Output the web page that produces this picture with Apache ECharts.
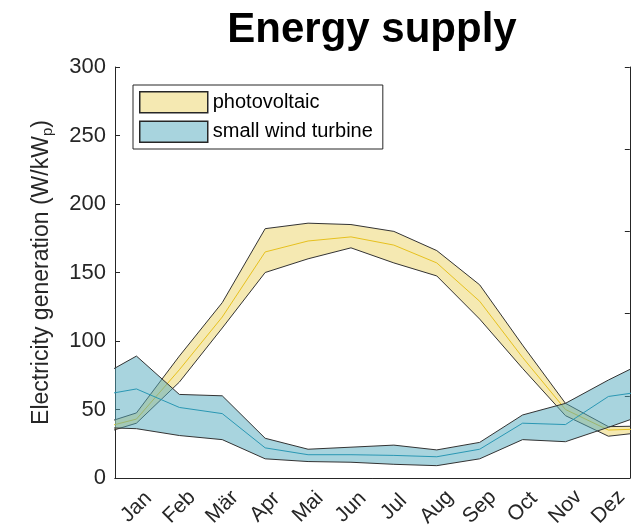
<!DOCTYPE html>
<html><head><meta charset="utf-8">
<script src="https://cdn.jsdelivr.net/npm/echarts@6/dist/echarts.min.js"></script>
<style>html,body{margin:0;padding:0;background:#fff}#c{width:631px;height:531px}</style>
</head><body><div id="c"></div>
<script>
// Month categories (tick labels)
const months = ['Jan','Feb','Mär','Apr','Mai','Jun','Jul','Aug','Sep','Oct','Nov','Dez'];
// x positions: 0 = Dez (previous year), 1..12 = Jan..Dez, 13 = Jan (next year)
const positions = [0,1,2,3,4,5,6,7,8,9,10,11,12,13];
// photovoltaic band
const pvUpper = [37.5, 47.5, 89, 128, 182, 186, 185, 180, 166, 141, 97, 54.5, 37.5, 38];
const pvMean  = [35,   43,   79, 117.5, 165, 173, 176, 170, 157, 129, 88, 50,   35,   36];
const pvLower = [30.5, 40,   70, 109.5, 150, 160, 168, 157, 147.5, 116, 80, 45.5, 30.5, 34];
// small wind turbine band
const windUpper = [71.5, 89, 61,   60, 29, 21, 22.5, 24,   20.5, 26, 46, 54.5, 71.5, 87];
const windMean  = [59.5, 65, 51.5, 47, 22, 17, 17,   16.5, 15.5, 21, 40, 39,   59.5, 64];
const windLower = [37,   36, 31,   28, 14, 12, 11.5, 10,   9,    14, 28, 26.5, 37,   48];

const FONT = '"Liberation Sans", Arial, Helvetica, sans-serif';
const AX = '#262626';
const EDGE = '#333333';
const pvFill = 'rgba(236,212,102,0.5)';
const windFill = 'rgba(82,170,190,0.5)';
const pvLine = '#e6c01e';
const windLine = '#2a97b3';

const chart = echarts.init(document.getElementById('c'), null, {renderer:'canvas'});

const ctx = document.createElement('canvas').getContext('2d');
ctx.font = 'bold 42px ' + FONT;
const titleW = ctx.measureText('Energy supply').width;

function bandSeries(name, upper, lower, fill, z) {
  return {
    name, type:'custom', xAxisIndex:2, yAxisIndex:0, clip:true, silent:true, z,
    itemStyle:{color: fill},
    data: positions.map((p,i)=>[p, upper[i], lower[i]]),
    encode:{x:0, y:[1,2]},
    renderItem(params, api) {
      if (params.dataIndex !== 0) return null;
      const pts = [];
      positions.forEach((p,i)=>pts.push(api.coord([p, upper[i]])));
      for (let i = positions.length-1; i >= 0; i--) pts.push(api.coord([positions[i], lower[i]]));
      return {type:'polygon', shape:{points:pts}, style:{fill: fill, stroke:null}};
    }
  };
}
function lineSeries(name, vals, color, z) {
  return {
    name, type:'line', xAxisIndex:2, yAxisIndex:0, silent:true, z,
    data: positions.map((p,i)=>[p, vals[i]]),
    symbol:'none', lineStyle:{color, width:1}, itemStyle:{color}
  };
}

chart.setOption({
  animation:false,
  backgroundColor:'#fff',
  title:{
    text:'Energy supply', left: 372 - titleW/2, top:9, padding:0,
    textStyle:{fontSize:42, fontWeight:'bold', color:'#000', fontFamily:FONT}
  },
  legend:{
    orient:'vertical', left:133, top:85, itemWidth:68, itemHeight:21, itemGap:7,
    padding:[6,10,6,6], borderColor:AX, borderWidth:1, backgroundColor:'#fff',
    selectedMode:false,
    textStyle:{fontSize:20, color:'#000', fontFamily:FONT},
    data:[
      {name:'photovoltaic', icon:'rect', itemStyle:{color:pvFill, borderColor:AX, borderWidth:1.5}},
      {name:'small wind turbine', icon:'rect', itemStyle:{color:windFill, borderColor:AX, borderWidth:1.5}}
    ]
  },
  grid:{left:115, right:-2, top:67, bottom:53},
  xAxis:[
    {type:'category', data:months, position:'bottom', boundaryGap:true,
     axisLine:{lineStyle:{color:AX, width:1}},
     axisTick:{inside:true, alignWithLabel:true, length:5, lineStyle:{color:AX}},
     axisLabel:{interval:0, rotate:45, align:'center', verticalAlign:'middle', margin:29,
                fontSize:21, color:AX, fontFamily:FONT},
     splitLine:{show:false}},
    {type:'category', data:months, position:'top', boundaryGap:true,
     axisLine:{lineStyle:{color:AX, width:1}},
     axisTick:{inside:true, alignWithLabel:true, length:5, lineStyle:{color:AX}},
     axisLabel:{show:false}, splitLine:{show:false}},
    {type:'value', min:0.5, max:12.5, show:false, splitLine:{show:false}}
  ],
  yAxis:[
    {type:'value', min:0, max:300, interval:50, position:'left',
     axisLine:{show:true, lineStyle:{color:AX, width:1}},
     axisTick:{show:true, inside:true, length:5, lineStyle:{color:AX}},
     axisLabel:{fontSize:22, color:AX, fontFamily:FONT, margin:9},
     splitLine:{show:false},
     name:'Electricity generation (W/kW{sub|p})', nameLocation:'middle', nameGap:60,
     nameTextStyle:{fontSize:23, color:AX, fontFamily:FONT,
       rich:{sub:{fontSize:15, color:AX, fontFamily:FONT, padding:[12,0,0,0], verticalAlign:'bottom'}}}},
    {type:'value', min:0, max:5, interval:1, position:'right',
     axisLine:{show:true, lineStyle:{color:AX, width:1}},
     axisTick:{show:true, inside:true, length:5, lineStyle:{color:AX}},
     axisLabel:{show:false}, splitLine:{show:false}}
  ],
  series:[
    bandSeries('photovoltaic', pvUpper, pvLower, pvFill, 2),
    lineSeries('pv lower', pvLower, EDGE, 3),
    lineSeries('pv upper', pvUpper, EDGE, 3),
    lineSeries('pv mean', pvMean, pvLine, 3),
    bandSeries('small wind turbine', windUpper, windLower, windFill, 4),
    lineSeries('wind lower', windLower, EDGE, 5),
    lineSeries('wind upper', windUpper, EDGE, 5),
    lineSeries('wind mean', windMean, windLine, 5)
  ]
});
</script>
</body></html>
